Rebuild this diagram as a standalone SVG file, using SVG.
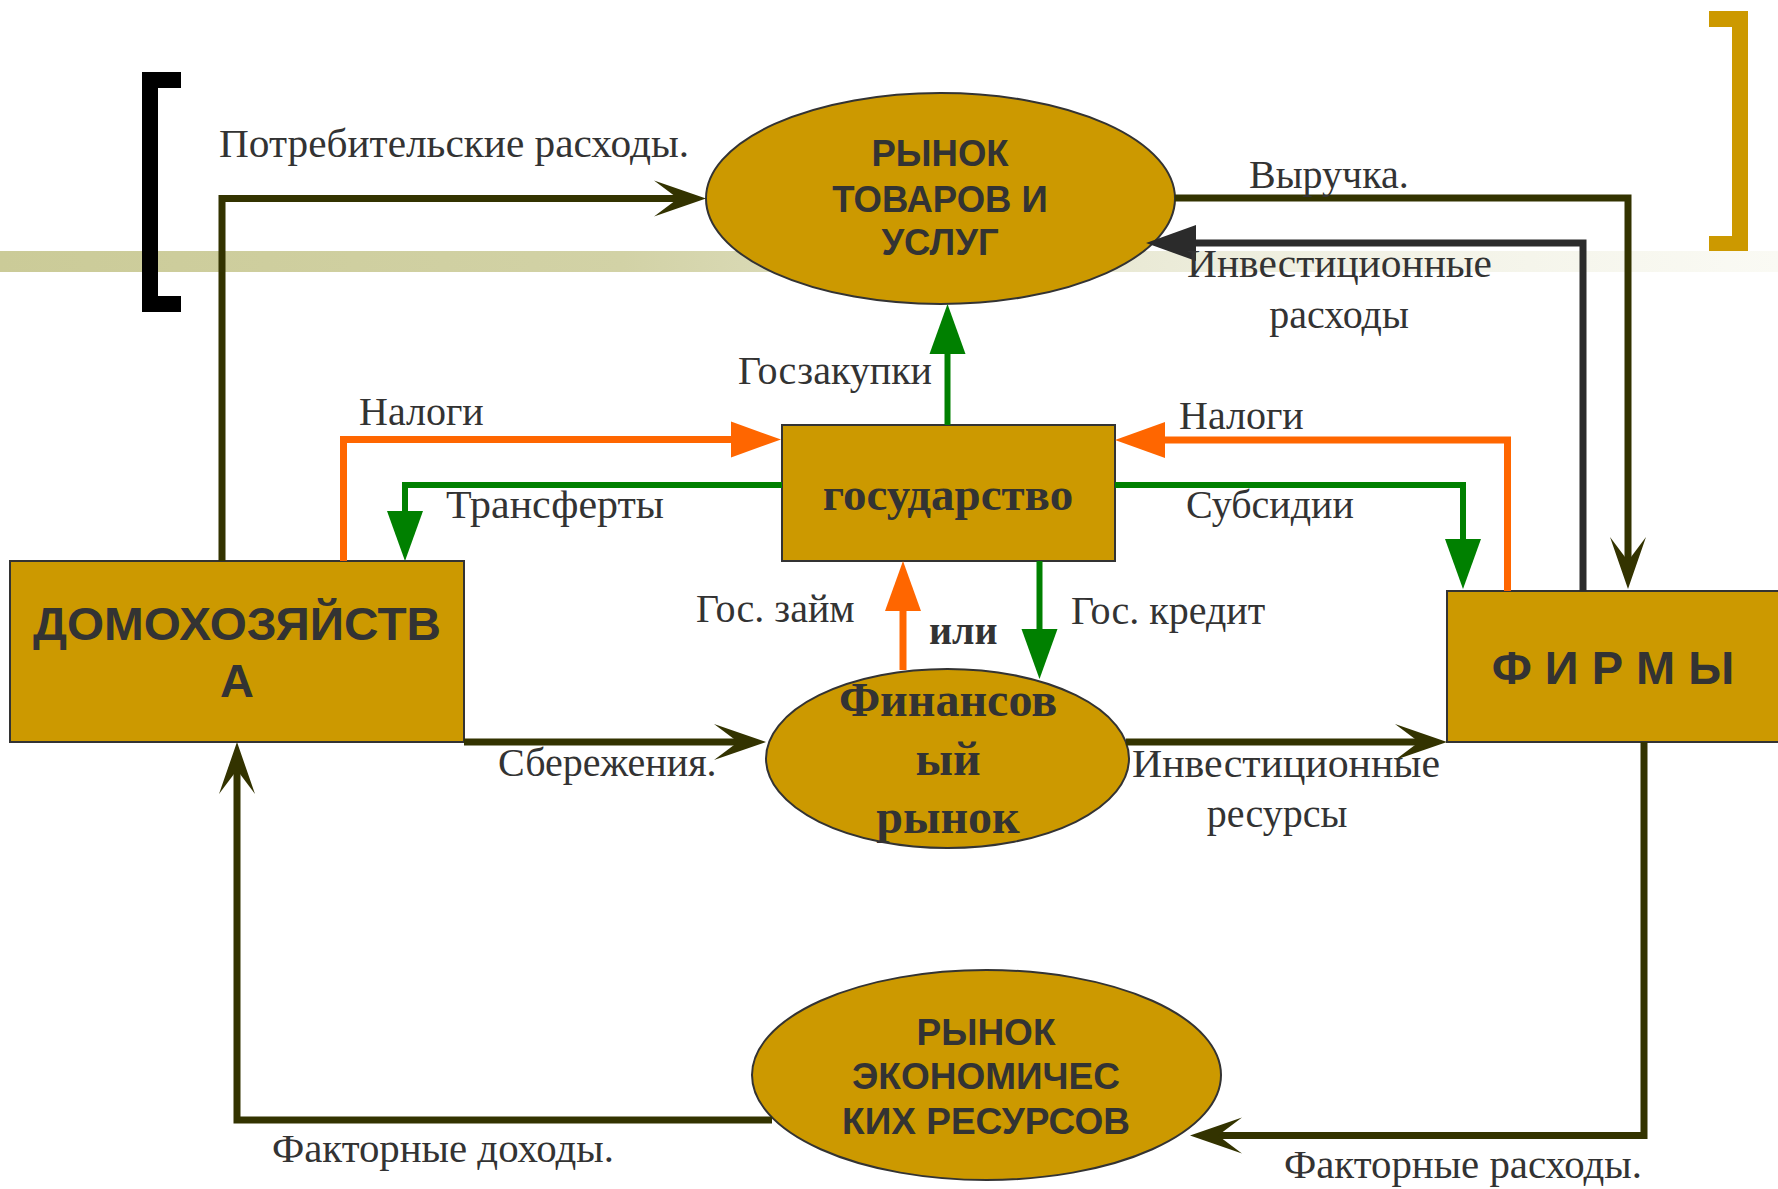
<svg xmlns="http://www.w3.org/2000/svg" width="1778" height="1189" viewBox="0 0 1778 1189">
<defs>
<linearGradient id="band" x1="0" y1="0" x2="1" y2="0">
<stop offset="0" stop-color="#CBCB98"/>
<stop offset="0.35" stop-color="#D2D2A6"/>
<stop offset="0.55" stop-color="#E4E4CA"/>
<stop offset="0.75" stop-color="#F1F1E4"/>
<stop offset="1" stop-color="#FAFAF4"/>
</linearGradient>
<marker id="mOlive" markerUnits="userSpaceOnUse" viewBox="0 -20 54 40" markerWidth="54" markerHeight="40" refX="28" refY="0" orient="auto" overflow="visible">
<path d="M0,-18 L52,0 L0,18 L24,0 Z" fill="#333300"/>
</marker>
<marker id="mGray" markerUnits="userSpaceOnUse" viewBox="0 -20 54 40" markerWidth="54" markerHeight="40" refX="3" refY="0" orient="auto" overflow="visible">
<path d="M0,-18 L50,0 L0,18 Z" fill="#2B2B2B"/>
</marker>
<marker id="mGreen" markerUnits="userSpaceOnUse" viewBox="0 -20 54 40" markerWidth="54" markerHeight="40" refX="3" refY="0" orient="auto" overflow="visible">
<path d="M0,-18 L50,0 L0,18 Z" fill="#008000"/>
</marker>
<marker id="mOrange" markerUnits="userSpaceOnUse" viewBox="0 -20 54 40" markerWidth="54" markerHeight="40" refX="3" refY="0" orient="auto" overflow="visible">
<path d="M0,-18 L50,0 L0,18 Z" fill="#FF6600"/>
</marker>
</defs>
<style>
.node{fill:#CC9900;stroke:#333333;stroke-width:2}
.nt{font-family:"Liberation Sans",Arial,sans-serif;font-weight:bold;fill:#333333;text-anchor:middle}
.ns{font-family:"Liberation Serif","Times New Roman",serif;font-weight:bold;fill:#333333;text-anchor:middle}
.lbl{font-family:"Liberation Serif","Times New Roman",serif;font-size:40px;fill:#333333}
.c{fill:none;stroke-linejoin:miter;stroke-linecap:butt}
.olive{stroke:#333300;stroke-width:7;marker-end:url(#mOlive)}
.gray{stroke:#2B2B2B;stroke-width:7;marker-end:url(#mGray)}
.green{stroke:#008000;stroke-width:6;marker-end:url(#mGreen)}
.orange{stroke:#FF6600;stroke-width:7;marker-end:url(#mOrange)}
</style>
<rect width="1778" height="1189" fill="#FFFFFF"/>
<rect x="0" y="251" width="1778" height="21" fill="url(#band)"/>
<path d="M181,72 H142 V312 H181 V296 H158 V88 H181 Z" fill="#000000"/>
<path d="M1709,11 H1748 V251 H1709 V236 H1732 V27 H1709 Z" fill="#CC9900"/>

<g id="goods-market">
<ellipse class="node" cx="940.5" cy="198.5" rx="234.5" ry="105.5"/>
<text class="nt" font-size="36.5" x="940" y="166">РЫНОК</text>
<text class="nt" font-size="36.5" x="940" y="212">ТОВАРОВ И</text>
<text class="nt" font-size="36.5" x="940" y="255">УСЛУГ</text>
</g>
<g id="government">
<rect class="node" x="782" y="425" width="333" height="136"/>
<text class="ns" font-size="47" x="948" y="510">государство</text>
</g>
<g id="households">
<rect class="node" x="10" y="561" width="454" height="181"/>
<text class="nt" font-size="47" x="237" y="640" textLength="408" lengthAdjust="spacingAndGlyphs">ДОМОХОЗЯЙСТВ</text>
<text class="nt" font-size="47" x="237" y="697">А</text>
</g>
<g id="firms">
<rect class="node" x="1447" y="591" width="345" height="151"/>
<text class="nt" font-size="47" x="1613" y="684">Ф И Р М Ы</text>
</g>
<g id="financial-market">
<ellipse class="node" cx="947.5" cy="758.5" rx="181.5" ry="89.5"/>
<text class="ns" font-size="48" x="948" y="716">Финансов</text>
<text class="ns" font-size="48" x="948" y="775">ый</text>
<text class="ns" font-size="48" x="948" y="833">рынок</text>
</g>
<g id="resource-market">
<ellipse class="node" cx="986.5" cy="1075" rx="234.5" ry="105"/>
<text class="nt" font-size="37" x="986" y="1045">РЫНОК</text>
<text class="nt" font-size="37" x="986" y="1089">ЭКОНОМИЧЕС</text>
<text class="nt" font-size="37" x="986" y="1134">КИХ РЕСУРСОВ</text>
</g>

<g id="connectors">
<path class="c olive" d="M222,561 V198.5 H682"/>
<path class="c olive" d="M1175,198 H1628 V565"/>
<path class="c gray" d="M1583,591 V243 H1193"/>
<path class="c green" d="M947.5,425 V351"/>
<path class="c orange" d="M343.5,561 V439.5 H734"/>
<path class="c green" d="M782,485 H405 V514"/>
<path class="c orange" d="M1507.5,591 V440 H1162"/>
<path class="c green" d="M1115,485 H1463 V542"/>
<path class="c orange" d="M903,670 V608"/>
<path class="c green" d="M1039.5,561 V632"/>
<path class="c olive" d="M464,742 H742"/>
<path class="c olive" d="M1126,742 H1423"/>
<path class="c olive" d="M1644,742 V1135.5 H1214"/>
<path class="c olive" d="M772,1120 H237 V766"/>
</g>

<g id="labels">
<text class="lbl" x="219" y="157" textLength="470" lengthAdjust="spacingAndGlyphs">Потребительские расходы.</text>
<text class="lbl" x="1249" y="188">Выручка.</text>
<text class="lbl" x="1187" y="277" textLength="305" lengthAdjust="spacingAndGlyphs">Инвестиционные</text>
<text class="lbl" x="1339" y="328" text-anchor="middle">расходы</text>
<text class="lbl" x="738" y="384">Госзакупки</text>
<text class="lbl" x="359" y="425">Налоги</text>
<text class="lbl" x="446" y="518" textLength="218" lengthAdjust="spacingAndGlyphs">Трансферты</text>
<text class="lbl" x="1179" y="429">Налоги</text>
<text class="lbl" x="1186" y="518">Субсидии</text>
<text class="lbl" x="696" y="622">Гос. займ</text>
<text class="lbl" x="1071" y="624">Гос. кредит</text>
<text class="lbl" x="929" y="644" font-weight="bold">или</text>
<text class="lbl" x="498" y="776">Сбережения.</text>
<text class="lbl" x="1132" y="777" textLength="308" lengthAdjust="spacingAndGlyphs">Инвестиционные</text>
<text class="lbl" x="1277" y="827" text-anchor="middle">ресурсы</text>
<text class="lbl" x="1284" y="1178" textLength="358" lengthAdjust="spacingAndGlyphs">Факторные расходы.</text>
<text class="lbl" x="272" y="1162" textLength="342" lengthAdjust="spacingAndGlyphs">Факторные доходы.</text>
</g>
</svg>
